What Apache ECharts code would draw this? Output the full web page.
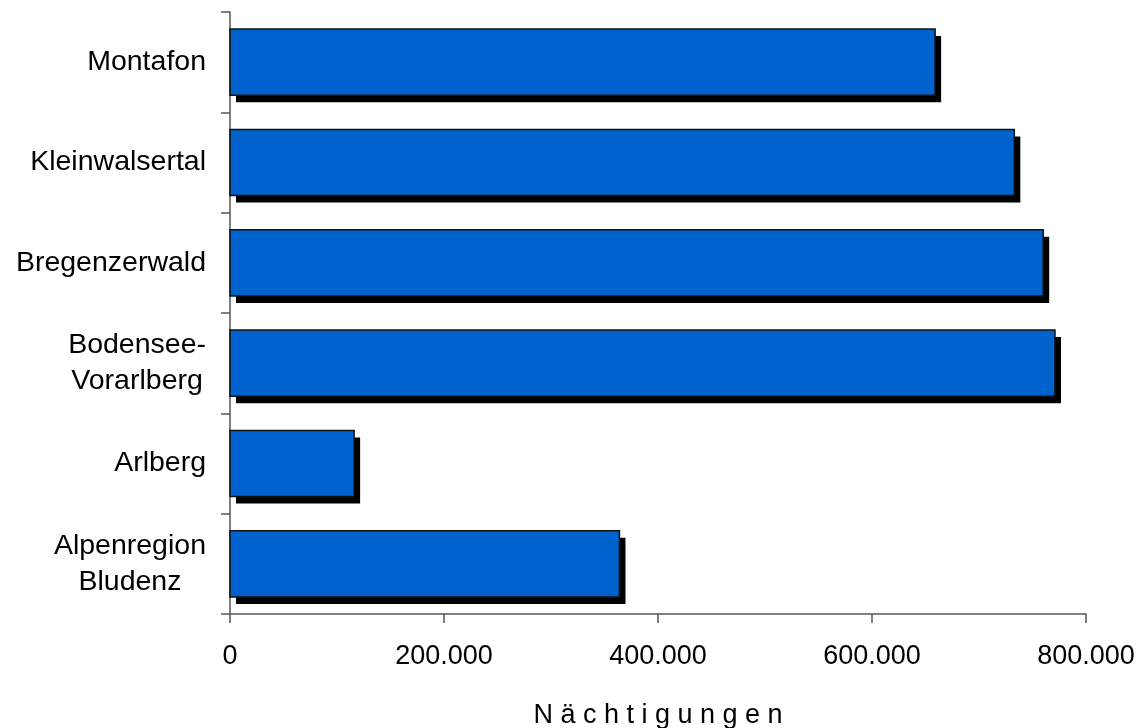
<!DOCTYPE html>
<html>
<head>
<meta charset="utf-8">
<script src="https://cdn.jsdelivr.net/npm/echarts@6/dist/echarts.min.js"></script>
<style>
html,body{margin:0;padding:0;background:#fff;}
#chart{width:1143px;height:728px;}
</style>
</head>
<body>
<div id="chart"></div>
<script>
// Categories bottom-to-top (ECharts category y-axis starts at bottom)
const categories = ['Alpenregion\nBludenz', 'Arlberg', 'Bodensee-\nVorarlberg', 'Bregenzerwald', 'Kleinwalsertal', 'Montafon'];
const naechtigungen = [364000, 116000, 771000, 760000, 733000, 659000];
const xTicks = [0, 200000, 400000, 600000, 800000];
const xTitle = 'N ä c h t i g u n g e n';

function fmt(v) {
  return String(v).replace(/\B(?=(\d{3})+(?!\d))/g, '.');
}

const chart = echarts.init(document.getElementById('chart'), null, {renderer: 'canvas'});
const font = "'Liberation Sans', Arial, sans-serif";
const barData = naechtigungen.map(function (v, i) { return [v, i]; });

chart.setOption({
  animation: false,
  backgroundColor: '#fff',
  grid: {left: 230, right: 57, top: 12, bottom: 114, containLabel: false, outerBoundsMode: 'none'},
  xAxis: {
    type: 'value',
    min: xTicks[0],
    max: xTicks[xTicks.length - 1],
    interval: xTicks[1] - xTicks[0],
    name: xTitle,
    nameLocation: 'middle',
    nameGap: 88,
    nameTextStyle: {fontFamily: font, fontSize: 27, color: '#000'},
    axisLine: {show: true, lineStyle: {color: '#555', width: 1.5}},
    axisTick: {show: true, length: 9, lineStyle: {color: '#555', width: 1.5}},
    axisLabel: {formatter: fmt, fontFamily: font, fontSize: 27, color: '#000', margin: 29},
    splitLine: {show: false}
  },
  yAxis: {
    type: 'category',
    data: categories,
    axisLine: {show: true, lineStyle: {color: '#555', width: 1.5}},
    axisTick: {show: true, length: 9, lineStyle: {color: '#555', width: 1.5}},
    axisLabel: {
      margin: 24,
      formatter: function (v) {
        return v.split('\n').map(function (s) { return '{c|' + s + '}'; }).join('\n');
      },
      rich: {
        c: {align: 'center', fontFamily: font, fontSize: 28.5, color: '#000', lineHeight: 36}
      }
    },
    splitLine: {show: false}
  },
  series: [{
    type: 'custom',
    data: barData,
    encode: {x: 0, y: 1},
    renderItem: function (params, api) {
      const v = api.value(0);
      const idx = api.value(1);
      const start = api.coord([0, idx]);
      const end = api.coord([v, idx]);
      const band = api.size([0, 1])[1];
      const h = band * 0.66;
      const w = end[0] - start[0];
      const y0 = start[1] - h / 2;
      return {
        type: 'group',
        children: [
          {type: 'rect', shape: {x: start[0] + 6, y: y0 + 7, width: w, height: h}, style: {fill: '#000'}},
          {type: 'rect', shape: {x: start[0], y: y0, width: w, height: h}, style: {fill: '#0062CC', stroke: '#111', lineWidth: 1.5}}
        ]
      };
    }
  }]
});
</script>
</body>
</html>
